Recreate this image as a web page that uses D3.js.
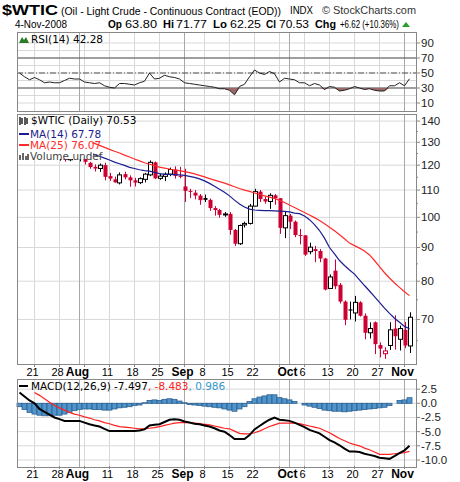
<!DOCTYPE html>
<html lang="en">
<head>
<meta charset="utf-8">
<script src="https://cdn.jsdelivr.net/npm/d3@7"></script>
<style>
  body { margin: 0; background: #fff; }
  text { font-family: "Liberation Sans", Arial, sans-serif; }
  text.leg { font-family: "DejaVu Sans", Verdana, sans-serif; }
</style>
</head>
<body>
<script>
// trading days, Jul 16 .. Nov 4 2008
var days = [
  'Jul16','Jul17','Jul18','Jul21','Jul22','Jul23','Jul24','Jul25','Jul28','Jul29','Jul30','Jul31','Aug1',
  'Aug4','Aug5','Aug6','Aug7','Aug8','Aug11','Aug12','Aug13','Aug14','Aug15','Aug18','Aug19','Aug20','Aug21','Aug22',
  'Aug25','Aug26','Aug27','Aug28','Aug29','Sep2','Sep3','Sep4','Sep5','Sep8','Sep9','Sep10','Sep11','Sep12',
  'Sep15','Sep16','Sep17','Sep18','Sep19','Sep22','Sep23','Sep24','Sep25','Sep26','Sep29','Sep30','Oct1','Oct2','Oct3',
  'Oct6','Oct7','Oct8','Oct9','Oct10','Oct13','Oct14','Oct15','Oct16','Oct17','Oct20','Oct21','Oct22','Oct23','Oct24',
  'Oct27','Oct28','Oct29','Oct30','Oct31','Nov3','Nov4'
];

// open, high, low, close
var ohlc = [
  [138.7,139.3,133.3,134.6],[134.6,135.5,128.3,129.3],[129.3,131.4,127.9,128.9],[129.1,132.0,127.5,131.0],
  [131.0,131.4,127.1,128.0],[128.0,128.9,123.7,124.4],[124.5,126.4,123.1,125.5],[125.5,126.0,122.9,123.3],
  [123.3,125.2,121.9,124.7],[124.0,124.4,121.5,122.2],[122.3,127.5,121.7,126.8],[126.8,127.3,123.2,124.1],
  [124.3,126.2,121.6,125.1],[124.6,125.5,120.3,121.4],[121.0,121.4,118.5,119.2],[119.3,120.3,117.4,118.6],
  [118.6,120.7,117.2,120.0],[120.0,121.0,113.8,115.2],[115.5,116.8,113.6,114.5],[114.2,115.3,112.9,113.0],
  [112.8,117.0,112.2,116.0],[116.3,117.3,114.2,115.0],[115.0,115.8,111.3,113.8],[113.8,114.8,111.4,112.9],
  [112.9,115.0,112.3,114.5],[114.2,116.8,113.0,116.3],[116.0,122.0,115.5,121.2],[121.2,121.5,114.3,114.6],
  [114.6,116.5,114.0,115.5],[115.4,117.0,113.5,116.3],[116.3,119.0,115.5,118.2],[118.2,119.5,114.5,115.6],
  [115.6,119.3,114.6,115.5],[111.4,118.5,105.5,109.7],[109.7,110.5,107.0,109.4],[109.0,110.0,106.5,107.9],
  [107.9,108.5,104.5,106.2],[107.0,108.3,105.5,106.3],[106.3,106.8,102.3,103.3],[103.3,104.0,100.6,102.6],
  [102.6,103.0,99.9,100.9],[101.1,101.9,100.2,101.2],[101.2,101.9,94.1,95.7],[95.7,96.0,90.5,91.2],
  [91.2,97.5,90.8,97.2],[97.4,98.5,96.5,97.9],[97.9,104.8,97.5,104.0],[104.0,110.5,103.9,109.4],
  [109.4,110.0,105.5,106.6],[106.6,107.5,104.9,105.7],[105.7,108.8,103.0,108.0],[108.0,108.5,104.5,106.9],
  [106.9,107.0,94.4,96.4],[96.4,102.0,93.0,100.6],[100.6,101.2,96.0,98.5],[98.5,98.9,93.3,94.0],
  [94.0,96.0,91.0,93.9],[93.9,94.0,87.4,87.8],[88.7,91.5,87.9,90.1],[89.5,90.5,85.5,88.9],
  [88.9,89.5,85.5,86.6],[86.6,86.8,77.5,77.7],[78.0,81.9,77.9,81.2],[83.0,86.3,77.8,78.6],
  [79.0,79.5,74.0,74.5],[74.5,74.8,68.6,69.9],[72.5,74.5,70.0,72.2],[71.6,76.0,69.5,74.3],
  [74.3,74.6,70.7,70.9],[70.9,71.5,65.3,66.8],[66.8,69.3,65.5,67.8],[69.3,69.5,62.0,64.2],
  [64.0,64.6,61.3,63.2],[62.1,63.5,61.0,62.7],[63.9,69.3,62.9,67.5],[67.8,71.0,63.0,66.0],
  [65.3,68.5,62.8,67.8],[67.5,69.4,63.3,63.9],[63.8,71.77,62.25,70.53]
];

var ma14 = [133,132.6,132,131.5,131,130.2,129.5,128.8,128.2,127.6,127.2,126.8,126.3,125.9,125.3,124.5,123.8,123,
  122.2,121.3,120.6,119.9,119.1,118.6,118.1,117.7,117.5,117,116.5,116.2,116.2,116.1,116.0,115.8,115.4,115,114.4,
  113.6,112.6,111.5,110.3,109.2,107.8,106.2,104.8,103.7,102.9,102.6,102.5,102.4,102.4,102.3,102.2,102.1,101.9,
  101.5,101.3,100.5,99.2,97.5,95.5,93,90,88,86,84.5,83.2,82,80.4,78.8,77.3,75.8,74.3,72.8,71.5,70.3,69.3,68.3,67.78];

var ma25 = [136,135.7,135.4,135,134.6,134.2,133.8,133.4,133,132.7,132.4,132,131.5,131,130.3,129.5,128.6,127.7,
  126.8,126,125.2,124.3,123.5,122.6,121.8,121.0,120.4,119.8,119.2,118.8,118.4,118,117.7,117.3,116.9,116.4,115.8,
  115.2,114.5,113.9,113.3,112.7,112,111.3,110.6,110,109.5,108.9,108.3,107.8,107.3,106.8,106.1,105.3,104.4,103.5,
  102.6,101.7,100.8,99.9,98.9,97.8,96.6,95.4,94.1,92.8,91.4,90.6,89.8,88.9,87.7,86,84.2,82.4,80.9,79.5,78.3,77.1,76.07];

var rsi = [50,45,41,44,41,37,38,37,37,40,43,42,42,38,37,36,37,33,31,30,36,36,35,34,37,39,50,42,43,47,45,44,42,
  37,36,35,34,33,32,31,29,29,27,21,32,35,45,54,50,48,52,49,38,43,42,41,37,37,33,36,34,28,32,31,26,27,29,32,30,
  28,29,27,26,26,33,33,37,33,42.28];

var macd = [1.9,1.2,0.5,0.0,-1.0,-1.5,-2.0,-2.5,-2.8,-3.1,-3.1,-3.1,-3.1,-3.4,-3.7,-3.9,-4.1,-4.5,-4.9,-4.9,-4.9,
  -4.9,-4.9,-4.9,-4.8,-4.6,-3.9,-3.8,-3.7,-3.3,-2.9,-2.8,-2.9,-3.2,-3.4,-3.6,-3.7,-3.9,-4.1,-4.4,-4.8,-5.0,-5.6,
  -6.3,-6.3,-6.3,-5.6,-4.6,-4.0,-3.4,-2.9,-2.5,-2.9,-3.0,-3.1,-3.4,-3.8,-4.2,-4.7,-5.0,-5.3,-5.9,-6.5,-6.9,-7.4,
  -8.0,-8.5,-8.5,-8.6,-8.9,-9.1,-9.3,-9.6,-9.7,-9.8,-9.3,-8.8,-8.3,-7.497];

var signal = [null,null,null,1.9,1.4,0.8,0.2,-0.4,-0.8,-1.2,-1.6,-1.9,-2.1,-2.4,-2.6,-2.9,-3.1,-3.4,-3.6,-3.9,
  -4.1,-4.2,-4.3,-4.4,-4.5,-4.5,-4.4,-4.3,-4.1,-3.9,-3.7,-3.5,-3.4,-3.4,-3.4,-3.5,-3.6,-3.7,-3.8,-4.0,-4.2,-4.4,
  -4.5,-4.9,-5.3,-5.4,-5.4,-5.2,-4.9,-4.5,-4.1,-3.8,-3.5,-3.5,-3.5,-3.5,-3.6,-3.8,-4.0,-4.2,-4.4,-4.8,-5.2,-5.7,
  -6.2,-6.6,-7.0,-7.3,-7.5,-7.9,-8.2,-8.6,-9.0,-9.0,-9.0,-8.9,-8.8,-8.7,-8.483];

var hist = [-0.6,-1.1,-1.6,-1.9,-2.1,-2.2,-2.2,-2.1,-2.1,-1.9,-1.6,-1.3,-1.1,-1.0,-1.0,-1.1,-1.1,-1.2,-1.2,-1.0,
  -0.8,-0.7,-0.6,-0.4,-0.3,0.1,0.5,0.6,0.5,0.7,0.8,0.7,0.4,0.1,-0.2,-0.3,-0.4,-0.5,-0.6,-0.7,-0.8,-1.0,-1.2,-1.4,
  -1.0,-0.6,0.3,0.8,1.1,1.3,1.5,1.5,1.0,0.8,0.6,0.3,0.0,-0.3,-0.5,-0.7,-0.9,-1.2,-1.3,-1.4,-1.4,-1.5,-1.4,-1.3,
  -1.2,-1.1,-1.0,-0.9,-0.8,-0.7,-0.4,0.0,0.5,0.6,0.986];

// date labels: [day index, text, bold]
var dateLabels = [[3,'21',0],[8,'28',0],[12,'Aug',1],[18,'11',0],[23,'18',0],[28,'25',0],[33,'Sep',1],[37,'8',0],
  [42,'15',0],[47,'22',0],[54,'Oct',1],[57,'6',0],[62,'13',0],[67,'20',0],[72,'27',0],[77,'Nov',1]];
var weekStarts = [3,8,13,18,23,28,33,37,42,47,52,57,62,67,72,77];
var monthStarts = [12,33,54,77];

var priceTicks = [140,130,120,110,100,90,80,70];
var rsiTicks = [90,70,50,30,10];
var macdTicks = [2.5,0,-2.5,-5,-7.5,-10];

var W = 460, H = 482, L = 17, R = 416;
var svg = d3.select('body').append('svg').attr('width', W).attr('height', H);

var x = d3.scaleLinear().domain([0, days.length - 1]).range([L + 2.5, L + 2.5 + 5 * (days.length - 1)]);

var red = '#cc0033', gridC = '#d8d8d8', darkC = '#a8a8a8';

function vgrid(g, y0, y1) {
  weekStarts.concat(monthStarts).forEach(function (i) {
    var dark = monthStarts.indexOf(i) >= 0;
    g.append('line').attr('x1', x(i)).attr('x2', x(i)).attr('y1', y0).attr('y2', y1)
      .attr('stroke', dark ? darkC : gridC).attr('stroke-width', 1);
  });
}
function frame(y0, y1) {
  svg.append('rect').attr('x', L + 0.5).attr('y', y0 + 0.5).attr('width', R - L).attr('height', y1 - y0)
    .attr('fill', 'none').attr('stroke', '#888');
}
function rightLabels(vals, yf, fmt) {
  vals.forEach(function (v) {
    svg.append('line').attr('x1', R).attr('x2', R + 4).attr('y1', yf(v)).attr('y2', yf(v)).attr('stroke', '#888');
    svg.append('text').attr('x', R + 5).attr('y', yf(v) + 4).attr('font-size', 11.5).attr('fill', '#222').text(fmt(v));
  });
}
function fit(x0, y0, w, size, str, bold, col) {
  return svg.append('text').attr('x', x0).attr('y', y0).attr('font-size', size)
    .attr('font-weight', bold ? 'bold' : 'normal').attr('fill', col || '#000')
    .attr('textLength', w).attr('lengthAdjust', 'spacingAndGlyphs').text(str);
}

// ---- header
fit(2, 15, 56, 15, '$WTIC', 1);
fit(61, 15, 220, 11.5, '(Oil - Light Crude - Continuous Contract (EOD))');
fit(290, 14, 23, 10, 'INDX');
fit(322, 14, 94, 11, '\u00A9 StockCharts.com', 0, '#333');
fit(15, 28, 52, 10.5, '4-Nov-2008');
[[108, 'Op', 14], [163, 'Hi', 11], [213, 'Lo', 14], [266, 'Cl', 10], [315, 'Chg', 21]].forEach(function (p) {
  fit(p[0], 28, p[2], 11.5, p[1], 1);
});
[[125, '63.80', 32], [176, '71.77', 31], [230, '62.25', 31], [279, '70.53', 30], [340, '+6.62 (+10.36%)', 59]].forEach(function (p) {
  fit(p[0], 28, p[2], 10.5, p[1]);
});
svg.append('path').attr('d', 'M402,27 L406,22 L410,27 Z').attr('fill', '#2a9d2a');

// ---- RSI panel
var rT = 32, rB = 111;
var yR = d3.scaleLinear().domain([0, 100]).range([110.5, 35.5]);
var gR = svg.append('g');
d3.range(10, 100, 10).forEach(function (v) {
  gR.append('line').attr('x1', L).attr('x2', R).attr('y1', yR(v)).attr('y2', yR(v)).attr('stroke', gridC);
});
vgrid(gR, rT, rB);
[30, 70].forEach(function (v) {
  gR.append('line').attr('x1', L).attr('x2', R).attr('y1', yR(v)).attr('y2', yR(v)).attr('stroke', '#555');
});
gR.append('line').attr('x1', L).attr('x2', R).attr('y1', yR(50)).attr('y2', yR(50))
  .attr('stroke', '#555').attr('stroke-dasharray', '6,2,1,2');
gR.append('path').datum(rsi)
  .attr('d', d3.area().x(function (d, i) { return x(i); }).y0(yR(30)).y1(function (d) { return yR(Math.min(d, 30)); }))
  .attr('fill', '#9c6868');
gR.append('path').datum(rsi)
  .attr('d', d3.line().x(function (d, i) { return x(i); }).y(function (d) { return yR(d); }))
  .attr('fill', 'none').attr('stroke', '#222').attr('stroke-width', 1);
frame(rT, rB);
rightLabels(rsiTicks, yR, String);
svg.append('path').attr('d', 'M19,43 L22,37 L24,40 L26,37 L29,43 Z').attr('fill', '#2a7a2a');
svg.append('text').attr('class', 'leg').attr('x', 31).attr('y', 43).attr('font-size', 10.5).text('RSI(14) 42.28');

// ---- price panel
var pT = 114, pB = 364;
var yP = d3.scaleLog().domain([59.9, 143.5]).range([pB, pT]);
var gP = svg.append('g');
priceTicks.forEach(function (v) {
  gP.append('line').attr('x1', L).attr('x2', R).attr('y1', yP(v)).attr('y2', yP(v)).attr('stroke', gridC);
});
vgrid(gP, pT, pB);

var cw = 3;
gP.selectAll('g.c').data(ohlc).enter().append('g').each(function (d, i) {
  var prev = i ? ohlc[i - 1][3] : d[0];
  var col = d[3] < prev ? red : '#000';
  var g = d3.select(this), cx = Math.round(x(i)) + 0.5;
  var top = yP(Math.max(d[0], d[3])), bot = yP(Math.min(d[0], d[3]));
  g.append('line').attr('x1', cx).attr('x2', cx).attr('y1', yP(d[1])).attr('y2', yP(d[2])).attr('stroke', col);
  g.append('rect').attr('x', cx - cw / 2 - 0.5).attr('y', top).attr('width', cw + 1).attr('height', Math.max(1, bot - top))
    .attr('fill', d[3] < d[0] ? col : '#fff').attr('stroke', col).attr('stroke-width', d[3] < d[0] ? 0 : 1);
});
var line = function (arr) {
  return d3.line().x(function (d, i) { return x(i); }).y(function (d) { return yP(d); })(arr);
};
gP.append('path').attr('d', line(ma25)).attr('fill', 'none').attr('stroke', '#ff2a2a').attr('stroke-width', 1.2);
gP.append('path').attr('d', line(ma14)).attr('fill', 'none').attr('stroke', '#1c1c90').attr('stroke-width', 1.2);

// legend box
svg.append('rect').attr('x', L + 1).attr('y', pT + 1).attr('width', 75).attr('height', 44).attr('fill', '#fff');
svg.append('text').attr('class', 'leg').attr('x', 31).attr('y', 124).attr('font-size', 10.5).text('$WTIC (Daily) 70.53');
svg.append('path').attr('d', 'M20,117 v8 M22,118 v6 M25,117 v8 M27,118 v6').attr('stroke', '#222').attr('stroke-width', 1.5);
svg.append('line').attr('x1', 19).attr('x2', 29).attr('y1', 134).attr('y2', 134).attr('stroke', '#1c1c90').attr('stroke-width', 2);
svg.append('text').attr('class', 'leg').attr('x', 30).attr('y', 138).attr('font-size', 10.5).attr('fill', '#1c1c90').text('MA(14) 67.78');
svg.append('line').attr('x1', 19).attr('x2', 29).attr('y1', 145).attr('y2', 145).attr('stroke', '#ff2a2a').attr('stroke-width', 2);
svg.append('text').attr('class', 'leg').attr('x', 30).attr('y', 149).attr('font-size', 10.5).attr('fill', '#ff2a2a').text('MA(25) 76.07');
svg.append('path').attr('d', 'M20,160 v-5 M23,160 v-7 M26,160 v-4 M28,160 v-6').attr('stroke', '#666').attr('stroke-width', 2);
svg.append('text').attr('class', 'leg').attr('x', 30).attr('y', 160).attr('font-size', 10.5).attr('fill', '#444').text('Volume undef');

frame(pT, pB);
rightLabels(priceTicks, yP, String);
[135, 125, 115, 105, 95, 85, 75, 65].forEach(function (v) {
  svg.append('line').attr('x1', R).attr('x2', R + 2).attr('y1', yP(v)).attr('y2', yP(v)).attr('stroke', '#888');
});

// date labels
function dateAxis(yy) {
  dateLabels.forEach(function (d) {
    svg.append('text').attr('x', x(d[0]) - 2).attr('y', yy).attr('text-anchor', 'middle')
      .attr('font-size', d[2] ? 12 : 11).attr('font-weight', d[2] ? 'bold' : 'normal').text(d[1]);
  });
  weekStarts.forEach(function (i) {
    svg.append('line').attr('x1', x(i)).attr('x2', x(i)).attr('y1', yy - 12).attr('y2', yy - 9).attr('stroke', '#888');
  });
}
dateAxis(376);

// ---- MACD panel
var mT = 379, mB = 467;
var yM = d3.scaleLinear().domain([0, -10]).range([403.3, 460]);
var gM = svg.append('g');
macdTicks.forEach(function (v) {
  gM.append('line').attr('x1', L).attr('x2', R).attr('y1', yM(v)).attr('y2', yM(v)).attr('stroke', gridC);
});
vgrid(gM, mT, mB);
gM.selectAll('rect.h').data(hist).enter().append('rect')
  .attr('x', function (d, i) { return x(i) - 2.5; })
  .attr('y', function (d) { return Math.min(yM(d), yM(0)); })
  .attr('width', 5)
  .attr('height', function (d) { return Math.abs(yM(d) - yM(0)); })
  .attr('fill', '#4f95cc').attr('stroke', '#2b5f8f').attr('stroke-width', 0.8);
gM.append('path').datum(signal)
  .attr('d', d3.line().defined(function (d) { return d !== null; }).x(function (d, i) { return x(i); }).y(function (d) { return yM(d); }))
  .attr('fill', 'none').attr('stroke', '#ff2020').attr('stroke-width', 1.2);
gM.append('path').datum(macd)
  .attr('d', d3.line().x(function (d, i) { return x(i); }).y(function (d) { return yM(d); }))
  .attr('fill', 'none').attr('stroke', '#000').attr('stroke-width', 2);
frame(mT, mB);
rightLabels(macdTicks, yM, function (v) { return v.toFixed(1); });
svg.append('line').attr('x1', 19).attr('x2', 28).attr('y1', 386).attr('y2', 386).attr('stroke', '#000').attr('stroke-width', 2);
var mt = svg.append('text').attr('class', 'leg').attr('x', 31).attr('y', 390).attr('font-size', 10.5);
mt.append('tspan').text('MACD(12,26,9) -7.497');
mt.append('tspan').attr('fill', '#ff2020').text(', -8.483');
mt.append('tspan').attr('fill', '#3399cc').text(', 0.986');
dateAxis(478);
</script>
</body>
</html>
